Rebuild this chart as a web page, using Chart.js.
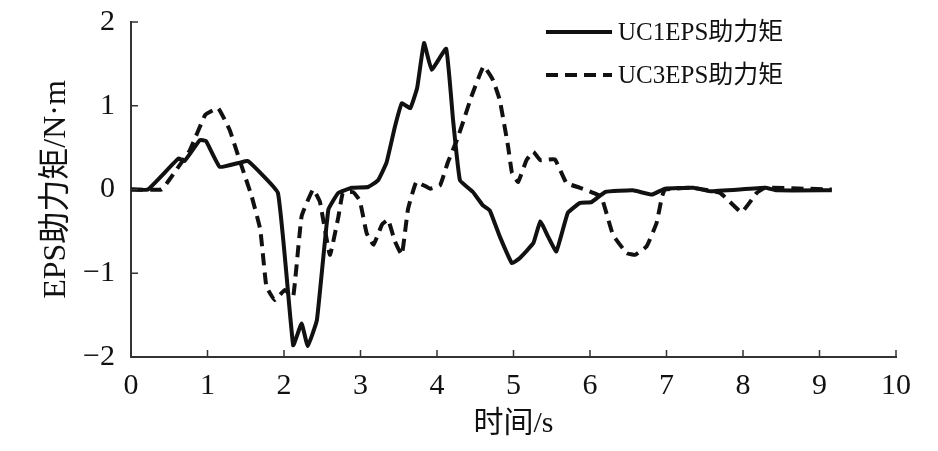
<!DOCTYPE html>
<html>
<head>
<meta charset="utf-8">
<script src="https://cdn.jsdelivr.net/npm/chart.js@4.4.1/dist/chart.umd.min.js"></script>
<style>
    html, body { margin: 0; padding: 0; background: #ffffff; }
    #wrap { width: 938px; height: 451px; }
</style>
</head>
<body>
<div id="wrap"><canvas id="epsChart" width="938" height="451"></canvas></div>
<script>
// 时间 / 助力矩 readings taken from the figure
const uc1Time = [0, 0.22, 0.62, 0.70, 0.90, 0.98, 1.16, 1.42, 1.53, 1.92, 2.12, 2.23, 2.31, 2.43, 2.58, 2.71, 2.89, 3.10, 3.23, 3.34, 3.45, 3.54, 3.65, 3.74, 3.83, 3.93, 4.12, 4.21, 4.30, 4.47, 4.60, 4.69, 4.82, 4.98, 5.08, 5.26, 5.35, 5.45, 5.56, 5.71, 5.87, 6.02, 6.20, 6.56, 6.81, 6.98, 7.35, 7.57, 8.29, 8.44, 9.16];
const uc1Torque = [0, 0, 0.37, 0.34, 0.59, 0.58, 0.27, 0.32, 0.34, -0.04, -1.86, -1.60, -1.87, -1.56, -0.24, -0.04, 0.02, 0.03, 0.11, 0.32, 0.75, 1.03, 0.97, 1.21, 1.75, 1.43, 1.68, 0.83, 0.11, -0.03, -0.19, -0.25, -0.56, -0.88, -0.82, -0.64, -0.38, -0.56, -0.74, -0.28, -0.16, -0.15, -0.03, -0.01, -0.06, 0.01, 0.02, -0.02, 0.02, -0.01, -0.01];

const uc3Time = [0, 0.40, 0.48, 0.77, 0.97, 1.14, 1.29, 1.42, 1.58, 1.69, 1.77, 1.88, 2.01, 2.12, 2.23, 2.38, 2.47, 2.60, 2.71, 2.77, 2.90, 2.99, 3.08, 3.17, 3.28, 3.36, 3.45, 3.54, 3.62, 3.73, 3.91, 4.04, 4.14, 4.26, 4.35, 4.45, 4.61, 4.73, 4.82, 4.93, 4.98, 5.06, 5.17, 5.26, 5.35, 5.54, 5.69, 5.87, 6.04, 6.15, 6.30, 6.48, 6.59, 6.74, 6.87, 6.94, 6.98, 7.35, 7.70, 7.98, 8.18, 8.29, 9.16];
const uc3Torque = [0, 0, 0.09, 0.47, 0.89, 0.97, 0.71, 0.35, -0.09, -0.48, -1.16, -1.32, -1.20, -1.28, -0.32, 0.0, -0.15, -0.78, -0.33, -0.04, -0.03, -0.13, -0.52, -0.66, -0.42, -0.36, -0.62, -0.78, -0.24, 0.09, 0.01, 0.05, 0.32, 0.59, 0.83, 1.11, 1.47, 1.31, 1.07, 0.51, 0.20, 0.09, 0.35, 0.45, 0.35, 0.36, 0.08, 0.02, -0.04, -0.09, -0.54, -0.76, -0.78, -0.68, -0.40, -0.09, 0.0, 0.02, -0.04, -0.27, -0.04, 0.02, 0.0];

const seriesNames = ['UC1EPS助力矩', 'UC3EPS助力矩'];
const xTicks = [0, 1, 2, 3, 4, 5, 6, 7, 8, 9, 10];
const yTicks = [-2, -1, 0, 1, 2];
const xTitle = '时间/s';
const yTitle = 'EPS助力矩/N·m';

const fontFamily = '"Liberation Serif", "Times New Roman", "Noto Sans CJK SC", serif';
const ink = '#111111';
const axisColor = '#333333';

function toPoints(xs, ys) {
    return xs.map((x, i) => ({ x: x, y: ys[i] }));
}

// small inward tick marks, placed with the scales
const innerTicks = {
    id: 'innerTicks',
    afterDraw(chart) {
        const { ctx, scales: { x, y } } = chart;
        ctx.save();
        ctx.strokeStyle = axisColor;
        ctx.lineWidth = 1.5;
        ctx.beginPath();
        xTicks.forEach((v) => {
            const px = x.getPixelForValue(v);
            ctx.moveTo(px, y.bottom);
            ctx.lineTo(px, y.bottom - 7);
        });
        yTicks.forEach((v) => {
            const py = y.getPixelForValue(v);
            ctx.moveTo(x.left, py);
            ctx.lineTo(x.left + 7, py);
        });
        ctx.stroke();
        ctx.restore();
    },
};

// legend drawn as in the figure: two stacked rows in the upper right
const stackedLegend = {
    id: 'stackedLegend',
    afterDraw(chart) {
        const { ctx } = chart;
        const lineX0 = 546;
        const lineX1 = 612;
        const rows = [32, 75];
        ctx.save();
        chart.data.datasets.forEach((ds, i) => {
            const yy = rows[i];
            ctx.strokeStyle = ds.borderColor;
            ctx.lineWidth = ds.borderWidth;
            ctx.setLineDash(ds.borderDash || []);
            ctx.beginPath();
            ctx.moveTo(lineX0, yy);
            ctx.lineTo(lineX1, yy);
            ctx.stroke();
            ctx.setLineDash([]);
            ctx.fillStyle = ink;
            ctx.font = '25px ' + fontFamily;
            ctx.textBaseline = 'middle';
            ctx.textAlign = 'left';
            ctx.fillText(ds.label, lineX1 + 6, yy + 1);
        });
        ctx.restore();
    },
};

Chart.defaults.font.family = fontFamily;
Chart.defaults.color = ink;

new Chart(document.getElementById('epsChart'), {
    type: 'line',
    data: {
        datasets: [
            {
                label: seriesNames[0],
                data: toPoints(uc1Time, uc1Torque),
                borderColor: ink,
                borderWidth: 4,
                pointRadius: 0,
                tension: 0.1,
                fill: false,
            },
            {
                label: seriesNames[1],
                data: toPoints(uc3Time, uc3Torque),
                borderColor: ink,
                borderWidth: 4,
                borderDash: [12, 7],
                pointRadius: 0,
                tension: 0.1,
                fill: false,
            },
        ],
    },
    options: {
        responsive: false,
        animation: false,
        layout: {
            padding: { top: 22, right: 42, left: 0, bottom: 0 },
        },
        plugins: {
            legend: { display: false },
            tooltip: { enabled: false },
        },
        scales: {
            x: {
                type: 'linear',
                min: 0,
                max: 10,
                afterBuildTicks: (scale) => {
                    scale.ticks = xTicks.map((v) => ({ value: v }));
                },
                afterFit: (scale) => {
                    scale.height = 94;
                },
                grid: { display: false, drawTicks: false },
                border: { display: true, color: axisColor, width: 2 },
                ticks: {
                    padding: 11,
                    color: ink,
                    font: { size: 30 },
                    maxRotation: 0,
                },
                title: {
                    display: true,
                    text: xTitle,
                    color: ink,
                    font: { size: 30 },
                    padding: { top: 0, bottom: 9 },
                },
            },
            y: {
                type: 'linear',
                min: -2,
                max: 2,
                afterBuildTicks: (scale) => {
                    scale.ticks = yTicks.map((v) => ({ value: v }));
                },
                afterFit: (scale) => {
                    scale.width = 131;
                    scale.paddingTop = 0;
                    scale.paddingBottom = 0;
                },
                grid: { display: false, drawTicks: false },
                border: { display: true, color: axisColor, width: 2 },
                ticks: {
                    padding: 16,
                    color: ink,
                    font: { size: 30 },
                    callback: (value) => (value < 0 ? '\u2212' + Math.abs(value) : String(value)),
                },
                title: {
                    display: true,
                    text: yTitle,
                    color: ink,
                    font: { size: 32 },
                    padding: { top: 37, bottom: 0 },
                },
            },
        },
    },
    plugins: [innerTicks, stackedLegend],
});
</script>
</body>
</html>
